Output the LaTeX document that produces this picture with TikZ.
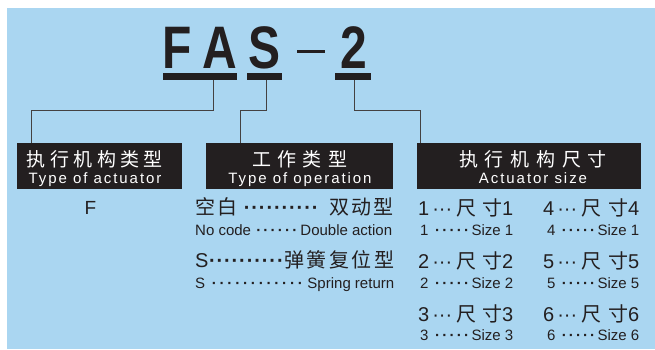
\documentclass[tikz,border=0pt]{standalone}
\usepackage{fontspec}
\setmainfont{Liberation Sans}
\newfontfamily\cjk{Noto Sans CJK SC}
\definecolor{bg}{RGB}{170,214,241}
\definecolor{ink}{RGB}{35,31,32}
\newcommand\dl[1]{\xleaders\hbox to #1{\hss{}\textbf{·}{}\hss}\hfill}
\newcommand\hf{\hfill{}}
\tikzset{
 conn/.style={draw=ink!85, line width=0.9pt},
 ubar/.style={fill=ink, inner sep=0, minimum height=7pt},
 blk/.style={fill=ink, inner sep=0, minimum height=46pt},
 ttl/.style={anchor=base, inner sep=0, text=ink, font=\fontsize{60}{60}\selectfont\bfseries, xscale=0.8},
 hzh/.style={anchor=base, inner sep=0, text=white, font=\cjk\fontsize{19}{19}\selectfont},
 hen/.style={anchor=base, inner sep=0, text=white, font=\fontsize{15}{15}\selectfont\addfontfeature{LetterSpace=13}},
 rowbig/.style={anchor=base west, inner sep=0, text=ink, font=\fontsize{20}{20}\selectfont},
 rowsm/.style={anchor=base west, inner sep=0, text=ink, font=\fontsize{15}{15}\selectfont},
}
\begin{document}
\begin{tikzpicture}[x=1pt,y=-1pt]
\useasboundingbox (0,0) rectangle (655,349);
\fill[white] (0,0) rectangle (655,349);
\fill[bg] (7,8) rectangle (655,349);
% title
\node[ttl] (tF) at (177.5,68) {F};
\node[ttl] (tA) at (220,68) {A};
\node[ttl] (tS) at (265,68) {S};
\node[fill=ink, inner sep=0, minimum width=28pt, minimum height=3pt] (tdash) at (311,51.5) {};
\node[ttl] (t2) at (353.5,68) {2};
% underline bars
\node[ubar, minimum width=74pt] (bar1) at (200,76.5) {};
\node[ubar, minimum width=35pt] (bar2) at (264.5,76.5) {};
\node[ubar, minimum width=36pt] (bar3) at (353,76.5) {};
% header boxes
\node[blk, minimum width=165pt] (box1) at (99.5,166) {};
\node[blk, minimum width=187pt] (box2) at (299.5,166) {};
\node[blk, minimum width=224pt] (box3) at (529,166) {};
\node[hzh] (h1zh) at (95,166) {\hbox to 136pt{执\hf 行\hf 机\hf 构\hf 类\hf 型}};
\node[hen] (h1en) at (95,183) {Type of actuator};
\node[hzh] (h2zh) at (299.5,166) {\hbox to 95pt{工\hf 作\hf 类\hf 型}};
\node[hen] (h2en) at (300,183) {Type of operation};
\node[hzh] (h3zh) at (533,166) {\hbox to 148pt{执\hf 行\hf 机\hf 构\hf 尺\hf 寸}};
\node[hen] (h3en) at (533,183) {Actuator size};
% connectors
\coordinate (k1) at (213,110);
\coordinate (d1) at (31,110);
\coordinate (k2) at (266,110);
\coordinate (d2) at (240,110);
\coordinate (k3) at (354,110);
\coordinate (d3) at (420,110);
\draw[conn] (bar1.south -| k1) -- (k1) -- (d1) -- (box1.north -| d1);
\draw[conn] (bar2.south -| k2) -- (k2) -- (d2) -- (box2.north -| d2);
\draw[conn] (bar3.south -| k3) -- (k3) -- (d3) -- (box3.north -| d3);
% column 1
\node[anchor=base, inner sep=0, text=ink, font=\fontsize{19}{19}\selectfont] (cF) at (90.5,214) {F};
% column 2
\node[rowbig] (o1) at (195,214) {\hbox to 198pt{{\cjk 空\hspace{2pt}白}\hspace{6pt}\dl{7pt}\hspace{10pt}{\cjk 双\hspace{2pt}动\hspace{2pt}型}}};
\node[rowsm] (o2) at (195,235) {\hbox to 197pt{No code\hspace{4pt}\dl{7pt}\hspace{2pt}Double action}};
\node[rowbig] (o3) at (195,267) {\hbox to 199pt{S\dl{7.5pt}{\cjk 弹\hspace{2.5pt}簧\hspace{2.5pt}复\hspace{2.5pt}位\hspace{2.5pt}型}}};
\node[rowsm] (o4) at (195,288) {\hbox to 199pt{S\hspace{5pt}\dl{7.5pt}\hspace{3pt}Spring return}};
% columns 3 and 4
\node[rowbig] (s1) at (418,215) {\hbox to 95pt{1\hspace{3pt}···\hspace{4pt}{\cjk 尺}\hf{\cjk 寸}1}};
\node[rowsm] (s1e) at (420,235) {\hbox to 93pt{1\hspace{5pt}\dl{6.5pt}\hspace{1pt}Size 1}};
\node[rowbig] (s2) at (418,268) {\hbox to 95pt{2\hspace{3pt}···\hspace{4pt}{\cjk 尺}\hf{\cjk 寸}2}};
\node[rowsm] (s2e) at (420,288) {\hbox to 93pt{2\hspace{5pt}\dl{6.5pt}\hspace{1pt}Size 2}};
\node[rowbig] (s3) at (418,321) {\hbox to 95pt{3\hspace{3pt}···\hspace{4pt}{\cjk 尺}\hf{\cjk 寸}3}};
\node[rowsm] (s3e) at (420,340) {\hbox to 93pt{3\hspace{5pt}\dl{6.5pt}\hspace{1pt}Size 3}};
\node[rowbig] (s4) at (543,215) {\hbox to 96pt{4\hspace{3pt}···\hspace{4pt}{\cjk 尺}\hf{\cjk 寸}4}};
\node[rowsm] (s4e) at (547,235) {\hbox to 92pt{4\hspace{5pt}\dl{6.5pt}\hspace{1pt}Size 1}};
\node[rowbig] (s5) at (543,268) {\hbox to 96pt{5\hspace{3pt}···\hspace{4pt}{\cjk 尺}\hf{\cjk 寸}5}};
\node[rowsm] (s5e) at (547,288) {\hbox to 92pt{5\hspace{5pt}\dl{6.5pt}\hspace{1pt}Size 5}};
\node[rowbig] (s6) at (543,321) {\hbox to 96pt{6\hspace{3pt}···\hspace{4pt}{\cjk 尺}\hf{\cjk 寸}6}};
\node[rowsm] (s6e) at (547,340) {\hbox to 92pt{6\hspace{5pt}\dl{6.5pt}\hspace{1pt}Size 6}};
\end{tikzpicture}
\end{document}
